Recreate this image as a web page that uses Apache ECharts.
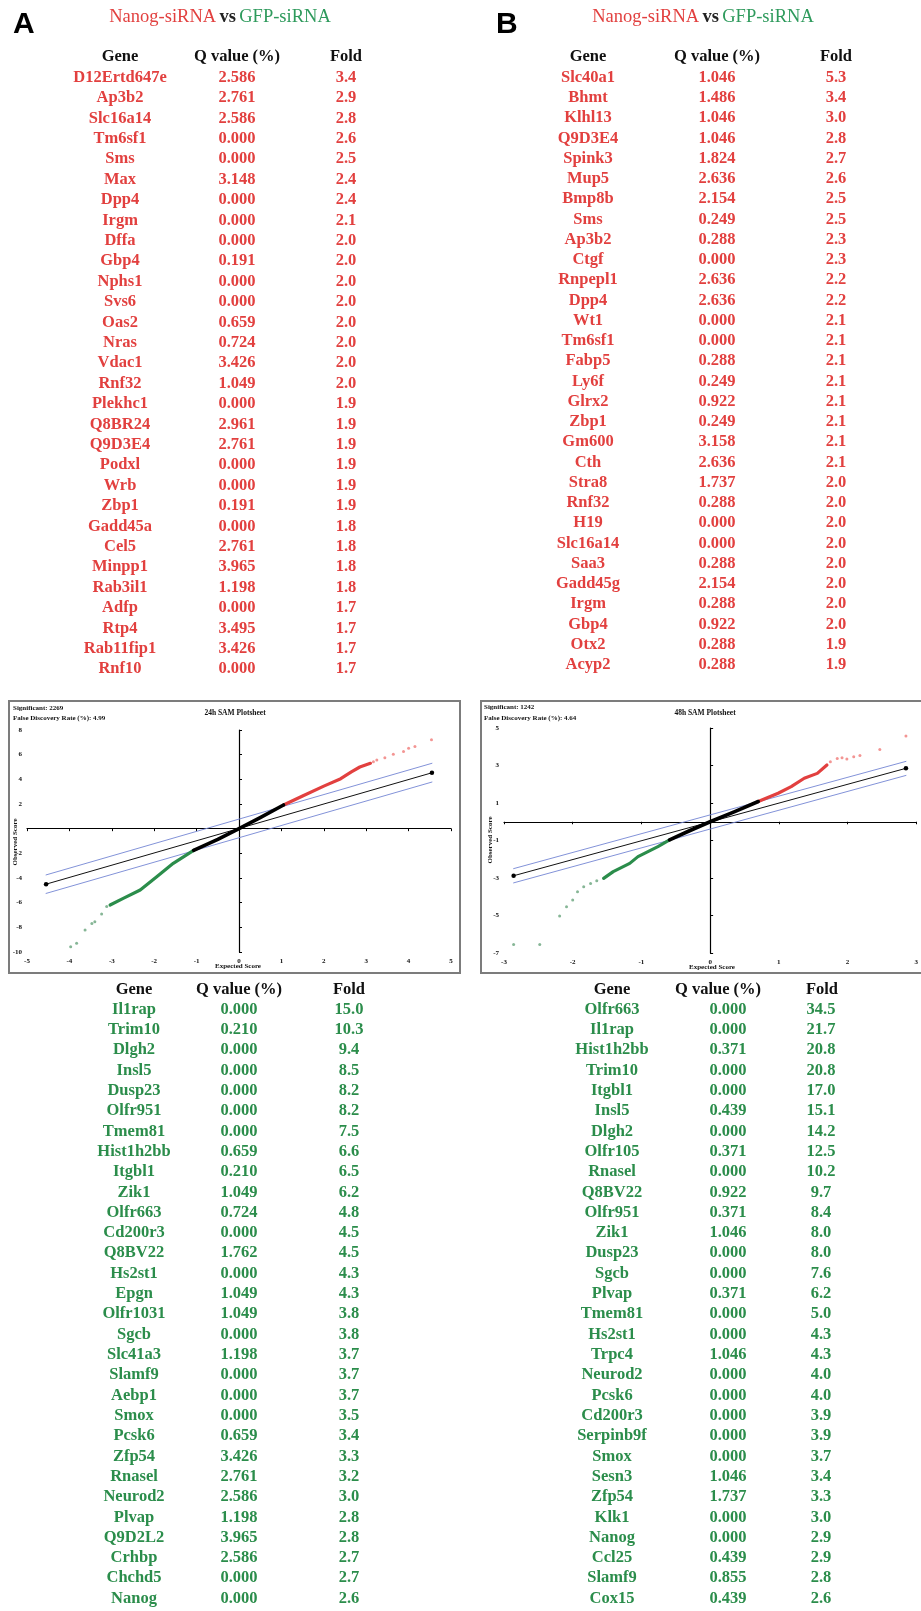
<!DOCTYPE html>
<html>
<head>
<meta charset="utf-8">
<script src="https://cdn.jsdelivr.net/npm/echarts@6/dist/echarts.min.js"></script>
<style>
  html, body { margin: 0; padding: 0; background: #fff; }
  #chart { width: 921px; height: 1611px; }
</style>
</head>
<body>
<div id="chart"></div>
<script>
// ---- table data ----
var topAGenes = ['D12Ertd647e','Ap3b2','Slc16a14','Tm6sf1','Sms','Max','Dpp4','Irgm','Dffa','Gbp4','Nphs1','Svs6','Oas2','Nras','Vdac1','Rnf32','Plekhc1','Q8BR24','Q9D3E4','Podxl','Wrb','Zbp1','Gadd45a','Cel5','Minpp1','Rab3il1','Adfp','Rtp4','Rab11fip1','Rnf10'];
var topAQ = ['2.586','2.761','2.586','0.000','0.000','3.148','0.000','0.000','0.000','0.191','0.000','0.000','0.659','0.724','3.426','1.049','0.000','2.961','2.761','0.000','0.000','0.191','0.000','2.761','3.965','1.198','0.000','3.495','3.426','0.000'];
var topAFold = ['3.4','2.9','2.8','2.6','2.5','2.4','2.4','2.1','2.0','2.0','2.0','2.0','2.0','2.0','2.0','2.0','1.9','1.9','1.9','1.9','1.9','1.9','1.8','1.8','1.8','1.8','1.7','1.7','1.7','1.7'];

var topBGenes = ['Slc40a1','Bhmt','Klhl13','Q9D3E4','Spink3','Mup5','Bmp8b','Sms','Ap3b2','Ctgf','Rnpepl1','Dpp4','Wt1','Tm6sf1','Fabp5','Ly6f','Glrx2','Zbp1','Gm600','Cth','Stra8','Rnf32','H19','Slc16a14','Saa3','Gadd45g','Irgm','Gbp4','Otx2','Acyp2'];
var topBQ = ['1.046','1.486','1.046','1.046','1.824','2.636','2.154','0.249','0.288','0.000','2.636','2.636','0.000','0.000','0.288','0.249','0.922','0.249','3.158','2.636','1.737','0.288','0.000','0.000','0.288','2.154','0.288','0.922','0.288','0.288'];
var topBFold = ['5.3','3.4','3.0','2.8','2.7','2.6','2.5','2.5','2.3','2.3','2.2','2.2','2.1','2.1','2.1','2.1','2.1','2.1','2.1','2.1','2.0','2.0','2.0','2.0','2.0','2.0','2.0','2.0','1.9','1.9'];

var botAGenes = ['Il1rap','Trim10','Dlgh2','Insl5','Dusp23','Olfr951','Tmem81','Hist1h2bb','Itgbl1','Zik1','Olfr663','Cd200r3','Q8BV22','Hs2st1','Epgn','Olfr1031','Sgcb','Slc41a3','Slamf9','Aebp1','Smox','Pcsk6','Zfp54','Rnasel','Neurod2','Plvap','Q9D2L2','Crhbp','Chchd5','Nanog'];
var botAQ = ['0.000','0.210','0.000','0.000','0.000','0.000','0.000','0.659','0.210','1.049','0.724','0.000','1.762','0.000','1.049','1.049','0.000','1.198','0.000','0.000','0.000','0.659','3.426','2.761','2.586','1.198','3.965','2.586','0.000','0.000'];
var botAFold = ['15.0','10.3','9.4','8.5','8.2','8.2','7.5','6.6','6.5','6.2','4.8','4.5','4.5','4.3','4.3','3.8','3.8','3.7','3.7','3.7','3.5','3.4','3.3','3.2','3.0','2.8','2.8','2.7','2.7','2.6'];

var botBGenes = ['Olfr663','Il1rap','Hist1h2bb','Trim10','Itgbl1','Insl5','Dlgh2','Olfr105','Rnasel','Q8BV22','Olfr951','Zik1','Dusp23','Sgcb','Plvap','Tmem81','Hs2st1','Trpc4','Neurod2','Pcsk6','Cd200r3','Serpinb9f','Smox','Sesn3','Zfp54','Klk1','Nanog','Ccl25','Slamf9','Cox15'];
var botBQ = ['0.000','0.000','0.371','0.000','0.000','0.439','0.000','0.371','0.000','0.922','0.371','1.046','0.000','0.000','0.371','0.000','0.000','1.046','0.000','0.000','0.000','0.000','0.000','1.046','1.737','0.000','0.000','0.439','0.855','0.439'];
var botBFold = ['34.5','21.7','20.8','20.8','17.0','15.1','14.2','12.5','10.2','9.7','8.4','8.0','8.0','7.6','6.2','5.0','4.3','4.3','4.0','4.0','3.9','3.9','3.7','3.4','3.3','3.0','2.9','2.9','2.8','2.6'];

var headers = ['Gene', 'Q value (%)', 'Fold'];

// ---- SAM plot data (expected score, observed score) ----
var aRef = [[-4.55, -4.5], [4.55, 4.53]];
var aBandUp = [[-4.55, -3.75], [4.55, 5.3]];
var aBandLo = [[-4.55, -5.25], [4.55, 3.78]];
var aBlack = [[-1.07, -1.76], [-0.5, -0.86], [0, 0], [0.5, 0.9], [1.05, 1.92]];
var aRed = [[1.05, 1.92], [1.5, 2.65], [2.0, 3.45], [2.4, 4.05], [2.65, 4.6], [2.85, 5.0], [3.1, 5.3]];
var aRedDots = [[3.17, 5.43], [3.25, 5.57], [3.44, 5.76], [3.64, 6.03], [3.88, 6.25], [4.0, 6.52], [4.15, 6.66], [4.54, 7.2]];
var aGreen = [[-1.07, -1.76], [-1.55, -2.81], [-1.94, -3.89], [-2.33, -4.97], [-2.73, -5.65], [-3.04, -6.19]];
var aGreenDots = [[-3.12, -6.32], [-3.24, -6.92], [-3.4, -7.54], [-3.47, -7.68], [-3.63, -8.22], [-3.83, -9.3], [-3.97, -9.57]];

var bRef = [[-2.86, -2.88], [2.85, 2.85]];
var bBandUp = [[-2.86, -2.5], [2.85, 3.22]];
var bBandLo = [[-2.86, -3.26], [2.85, 2.47]];
var bBlack = [[-0.59, -0.97], [-0.3, -0.48], [0, 0], [0.35, 0.53], [0.7, 1.08]];
var bRed = [[0.7, 1.08], [0.99, 1.52], [1.18, 1.87], [1.37, 2.32], [1.56, 2.58], [1.7, 3.03]];
var bRedDots = [[1.75, 3.2], [1.85, 3.38], [1.92, 3.42], [1.99, 3.35], [2.09, 3.47], [2.18, 3.53], [2.47, 3.86], [2.85, 4.57]];
var bGreen = [[-0.59, -0.97], [-0.76, -1.33], [-1.05, -1.86], [-1.17, -2.22], [-1.41, -2.66], [-1.55, -3.02]];
var bGreenDots = [[-1.65, -3.14], [-1.74, -3.29], [-1.84, -3.46], [-1.93, -3.73], [-2.0, -4.17], [-2.09, -4.53], [-2.19, -5.03], [-2.48, -6.54], [-2.86, -6.54]];

var RED = '#e2403f', GREEN = '#2b8d4b';
var TBL_FONT = 'bold 16.5px "Liberation Serif", "DejaVu Serif", serif';
var SMALL_FONT = 'bold 7px "Liberation Serif", serif';

function txt(text, x, y, font, fill, align) {
  return {
    type: 'text', silent: true,
    style: {
      text: text, x: x, y: y, font: font, fill: fill,
      align: align || 'center', verticalAlign: 'middle',
      textAlign: align || 'center', textVerticalAlign: 'middle'
    }
  };
}

// one gene table. cols = header centres, vals = row centres
function table(genes, qs, folds, cols, vals, yHead, y0, dy, color) {
  var els = [];
  headers.forEach(function (h, i) {
    els.push(txt(h, cols[i], yHead, TBL_FONT, '#111'));
  });
  genes.forEach(function (g, i) {
    var y = y0 + i * dy;
    els.push(txt(g, vals[0], y, TBL_FONT, color));
    els.push(txt(qs[i], vals[1], y, TBL_FONT, color));
    els.push(txt(folds[i], vals[2], y, TBL_FONT, color));
  });
  return els;
}

function title(cx) {
  return {
    type: 'text', silent: true,
    style: {
      text: '{r|Nanog-siRNA} {k|vs} {g|GFP-siRNA}',
      x: cx, y: 17, align: 'center', verticalAlign: 'middle',
      textAlign: 'center', textVerticalAlign: 'middle',
      rich: {
        r: { fill: RED, font: '18.5px "Liberation Serif", serif' },
        k: { fill: '#222', font: 'bold 18.5px "Liberation Serif", serif' },
        g: { fill: '#2e9a5c', font: '18.5px "Liberation Serif", serif' }
      }
    }
  };
}

var graphics = [];
graphics.push(txt('A', 13, 25, 'bold 30px "Liberation Sans", Arial, sans-serif', '#000', 'left'));
graphics.push(txt('B', 496, 25, 'bold 30px "Liberation Sans", Arial, sans-serif', '#000', 'left'));
graphics.push(title(220));
graphics.push(title(703));
graphics = graphics.concat(table(topAGenes, topAQ, topAFold, [120, 237, 346], [120, 237, 346], 57, 77.5, 20.4, RED));
graphics = graphics.concat(table(topBGenes, topBQ, topBFold, [588, 717, 836], [588, 717, 836], 57, 77.5, 20.25, RED));
graphics = graphics.concat(table(botAGenes, botAQ, botAFold, [134, 239, 349], [134, 239, 349], 990, 1009.5, 20.31, GREEN));
graphics = graphics.concat(table(botBGenes, botBQ, botBFold, [612, 718, 822], [612, 728, 821], 990, 1009.5, 20.31, GREEN));

// plot frames and labels
graphics.push({ type: 'rect', silent: true, shape: { x: 9, y: 701, width: 451, height: 272 },
  style: { fill: 'none', stroke: '#7c7c7c', lineWidth: 2 } });
graphics.push({ type: 'rect', silent: true, shape: { x: 481, y: 701, width: 450, height: 272 },
  style: { fill: 'none', stroke: '#7c7c7c', lineWidth: 2 } });
graphics.push(txt('Significant: 2269', 13, 708, SMALL_FONT, '#111', 'left'));
graphics.push(txt('False Discovery Rate (%): 4.99', 13, 718, SMALL_FONT, '#111', 'left'));
graphics.push(txt('24h SAM Plotsheet', 235, 713, 'bold 7.5px "Liberation Serif", serif', '#111'));
graphics.push(txt('Significant: 1242', 484, 707, SMALL_FONT, '#111', 'left'));
graphics.push(txt('False Discovery Rate (%): 4.64', 484, 718, SMALL_FONT, '#111', 'left'));
graphics.push(txt('48h SAM Plotsheet', 705, 713, 'bold 7.5px "Liberation Serif", serif', '#111'));
graphics.push(txt('Expected Score', 238, 966, SMALL_FONT, '#111'));
graphics.push(txt('Expected Score', 712, 967, SMALL_FONT, '#111'));
var obsA = txt('Observed Score', 0, 0, SMALL_FONT, '#111');
obsA.rotation = Math.PI / 2; obsA.x = 15; obsA.y = 842;
var obsB = txt('Observed Score', 0, 0, SMALL_FONT, '#111');
obsB.rotation = Math.PI / 2; obsB.x = 490; obsB.y = 840;
graphics.push(obsA, obsB);

function xAx(grid, min, max) {
  return {
    gridIndex: grid, type: 'value', min: min, max: max, interval: 1,
    axisLine: { onZero: true, lineStyle: { color: '#000', width: 1.2 } },
    axisTick: { length: 2.5, lineStyle: { color: '#000' } },
    axisLabel: { fontSize: 7, fontWeight: 'bold', fontFamily: 'Liberation Serif', color: '#111', margin: 6 },
    splitLine: { show: false }
  };
}
function yAx(grid, min, max) {
  return {
    gridIndex: grid, type: 'value', min: min, max: max, interval: 2,
    axisLine: { onZero: true, lineStyle: { color: '#000', width: 1.2 } },
    axisTick: { inside: true, length: 3, lineStyle: { color: '#000' } },
    axisLabel: { fontSize: 7, fontWeight: 'bold', fontFamily: 'Liberation Serif', color: '#111', margin: 5,
      formatter: function (v) { return v === 0 ? '' : String(v); } },
    splitLine: { show: false }
  };
}
function lineS(i, data, color, width, z) {
  return { type: 'line', xAxisIndex: i, yAxisIndex: i, data: data, showSymbol: false, silent: true,
    lineStyle: { color: color, width: width, cap: 'round', join: 'round' }, z: z };
}
function refS(i, data) {
  return { type: 'line', xAxisIndex: i, yAxisIndex: i, data: data, symbol: 'circle', symbolSize: 4.5,
    showSymbol: true, silent: true, itemStyle: { color: '#000' }, lineStyle: { color: '#111', width: 1 }, z: 3 };
}
function dotS(i, data, color) {
  return { type: 'scatter', xAxisIndex: i, yAxisIndex: i, data: data, symbolSize: 3, silent: true,
    itemStyle: { color: color }, z: 4 };
}

var chart = echarts.init(document.getElementById('chart'));
chart.setOption({
  animation: false,
  backgroundColor: '#fff',
  grid: [
    { left: 27, top: 730, width: 424, height: 222 },
    { left: 504, top: 728, width: 418, height: 225 }
  ],
  xAxis: [xAx(0, -5, 5), xAx(1, -3, 3)],
  yAxis: [yAx(0, -10, 8), yAx(1, -7, 5)],
  series: [
    lineS(0, aBandUp, '#7486d4', 0.9, 2), lineS(0, aBandLo, '#7486d4', 0.9, 2), refS(0, aRef),
    lineS(0, aGreen, GREEN, 3.2, 5), lineS(0, aRed, RED, 3.2, 5), lineS(0, aBlack, '#000', 3.6, 6),
    dotS(0, aRedDots, '#f07a78'), dotS(0, aGreenDots, '#68a47c'),
    lineS(1, bBandUp, '#7486d4', 0.9, 2), lineS(1, bBandLo, '#7486d4', 0.9, 2), refS(1, bRef),
    lineS(1, bGreen, GREEN, 3.2, 5), lineS(1, bRed, RED, 3.2, 5), lineS(1, bBlack, '#000', 3.6, 6),
    dotS(1, bRedDots, '#f07a78'), dotS(1, bGreenDots, '#68a47c')
  ],
  graphic: graphics
});
</script>
</body>
</html>
